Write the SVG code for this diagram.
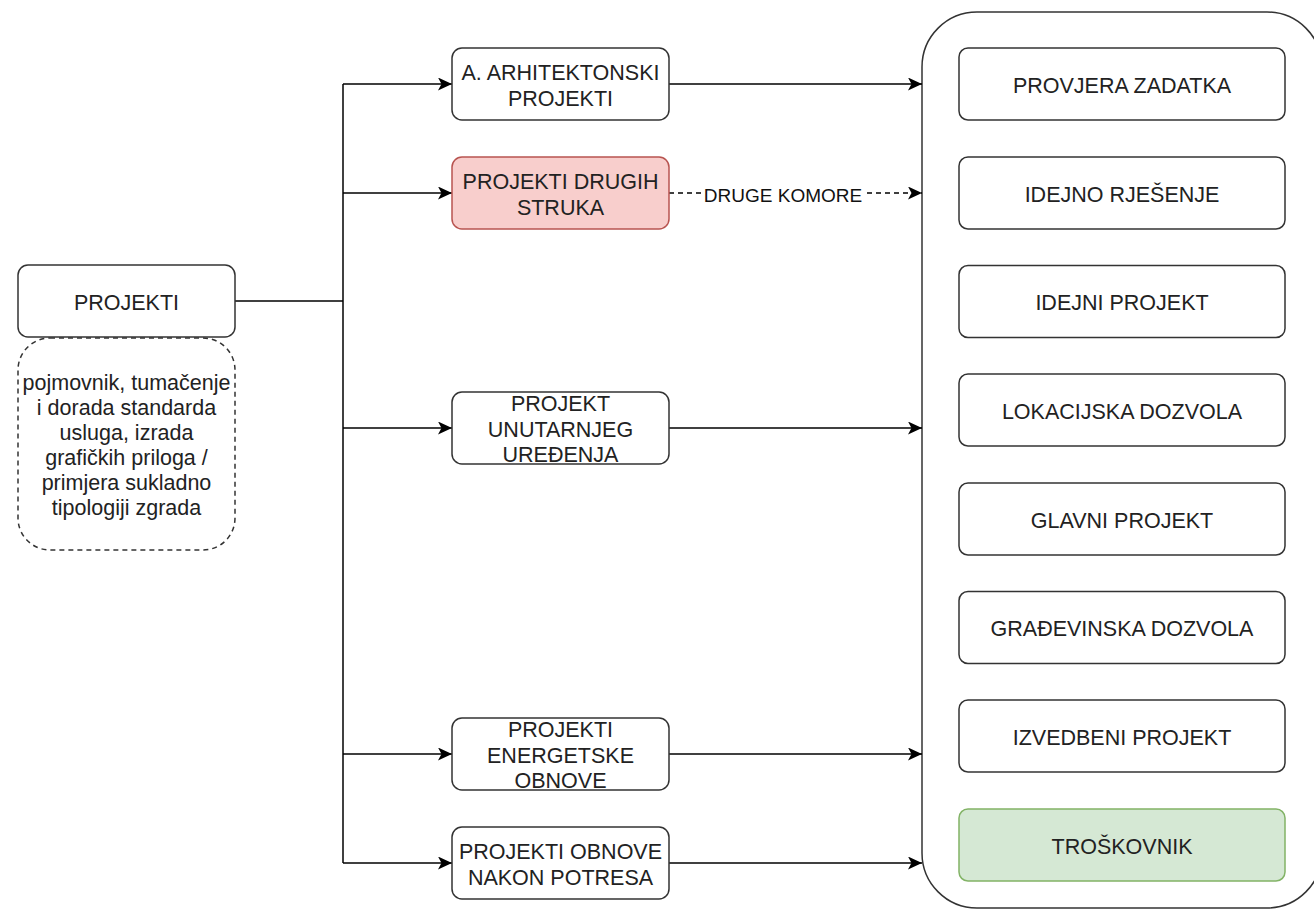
<svg xmlns="http://www.w3.org/2000/svg" width="1314" height="910" viewBox="0 0 1314 910">
  <defs>
    <marker id="arr" markerUnits="userSpaceOnUse" markerWidth="14" markerHeight="13" refX="14" refY="6.5" orient="auto">
      <path d="M0,0 L14,6.5 L0,13 L3.5,6.5 Z" fill="#000"/>
    </marker>
    <style>
      .box{fill:#fff;stroke:#333;stroke-width:1.5}
      .red{fill:#f8cecc;stroke:#b85450;stroke-width:1.5}
      .green{fill:#d5e8d4;stroke:#82b366;stroke-width:1.5}
      .dash{fill:#fff;stroke:#333;stroke-width:1.5;stroke-dasharray:5 4}
      .t{font-family:"Liberation Sans",Arial,sans-serif;font-size:21.5px;fill:#222;text-anchor:middle}
      .lbl{font-family:"Liberation Sans",Arial,sans-serif;font-size:19px;fill:#111;text-anchor:middle}
      .ln{fill:none;stroke:#000;stroke-width:1.5}
      .arrow{fill:none;stroke:#000;stroke-width:1.5;marker-end:url(#arr)}
    </style>
  </defs>
  <rect width="1314" height="910" fill="#fff"/>

  <g id="container">
    <rect x="922" y="12" width="400" height="896" rx="55" ry="55" fill="#fff" stroke="#333" stroke-width="1.5"/>
  </g>

  <g id="connectors">
    <path class="ln" d="M235,301 H343"/>
    <path class="ln" d="M343,84 V863"/>
    <path class="arrow" d="M343,84 H452"/>
    <path class="arrow" d="M343,193 H452"/>
    <path class="arrow" d="M343,428 H452"/>
    <path class="arrow" d="M343,754 H452"/>
    <path class="arrow" d="M343,863 H452"/>
    <path class="arrow" d="M669,84 H922"/>
    <path class="arrow" d="M669,193 H922" stroke-dasharray="5 4"/>
    <path class="arrow" d="M669,428 H922"/>
    <path class="arrow" d="M669,754 H922"/>
    <path class="arrow" d="M669,863 H922"/>
    <rect x="701" y="181" width="164" height="24" fill="#fff"/>
    <text class="lbl" x="783" y="202">DRUGE KOMORE</text>
  </g>

  <g id="projekti">
    <rect class="box" x="18" y="265" width="217" height="72" rx="10"/>
    <text class="t" x="126.5" y="309.5">PROJEKTI</text>
  </g>

  <g id="napomena">
    <rect class="dash" x="18" y="338" width="217" height="212" rx="32"/>
    <text class="t" x="126.5" y="390">pojmovnik, tumačenje</text>
    <text class="t" x="126.5" y="415">i dorada standarda</text>
    <text class="t" x="126.5" y="440">usluga, izrada</text>
    <text class="t" x="126.5" y="465">grafičkih priloga /</text>
    <text class="t" x="126.5" y="490">primjera sukladno</text>
    <text class="t" x="126.5" y="515">tipologiji zgrada</text>
  </g>

  <g id="arhitektonski">
    <rect class="box" x="452" y="48" width="217" height="72" rx="10"/>
    <text class="t" x="560.5" y="80">A. ARHITEKTONSKI</text>
    <text class="t" x="560.5" y="105.5">PROJEKTI</text>
  </g>

  <g id="drugih-struka">
    <rect class="red" x="452" y="157" width="217" height="72" rx="10"/>
    <text class="t" x="560.5" y="189">PROJEKTI DRUGIH</text>
    <text class="t" x="560.5" y="214.5">STRUKA</text>
  </g>

  <g id="unutarnjeg">
    <rect class="box" x="452" y="392" width="217" height="72" rx="10"/>
    <text class="t" x="560.5" y="411">PROJEKT</text>
    <text class="t" x="560.5" y="436.5">UNUTARNJEG</text>
    <text class="t" x="560.5" y="462">UREĐENJA</text>
  </g>

  <g id="energetske">
    <rect class="box" x="452" y="718" width="217" height="72" rx="10"/>
    <text class="t" x="560.5" y="737">PROJEKTI</text>
    <text class="t" x="560.5" y="762.5">ENERGETSKE</text>
    <text class="t" x="560.5" y="788">OBNOVE</text>
  </g>

  <g id="potres">
    <rect class="box" x="452" y="827" width="217" height="72" rx="10"/>
    <text class="t" x="560.5" y="859">PROJEKTI OBNOVE</text>
    <text class="t" x="560.5" y="884.5">NAKON POTRESA</text>
  </g>

  <g id="provjera">
    <rect class="box" x="959" y="48" width="326" height="72" rx="9"/>
    <text class="t" x="1122" y="92.5">PROVJERA ZADATKA</text>
  </g>
  <g id="idejno-rjesenje">
    <rect class="box" x="959" y="157" width="326" height="72" rx="9"/>
    <text class="t" x="1122" y="201.5">IDEJNO RJEŠENJE</text>
  </g>
  <g id="idejni-projekt">
    <rect class="box" x="959" y="265.5" width="326" height="72" rx="9"/>
    <text class="t" x="1122" y="310">IDEJNI PROJEKT</text>
  </g>
  <g id="lokacijska">
    <rect class="box" x="959" y="374" width="326" height="72" rx="9"/>
    <text class="t" x="1122" y="418.5">LOKACIJSKA DOZVOLA</text>
  </g>
  <g id="glavni">
    <rect class="box" x="959" y="483" width="326" height="72" rx="9"/>
    <text class="t" x="1122" y="527.5">GLAVNI PROJEKT</text>
  </g>
  <g id="gradevinska">
    <rect class="box" x="959" y="591.5" width="326" height="72" rx="9"/>
    <text class="t" x="1122" y="636">GRAĐEVINSKA DOZVOLA</text>
  </g>
  <g id="izvedbeni">
    <rect class="box" x="959" y="700" width="326" height="72" rx="9"/>
    <text class="t" x="1122" y="744.5">IZVEDBENI PROJEKT</text>
  </g>
  <g id="troskovnik">
    <rect class="green" x="959" y="809" width="326" height="72" rx="9"/>
    <text class="t" x="1122" y="853.5">TROŠKOVNIK</text>
  </g>
</svg>
